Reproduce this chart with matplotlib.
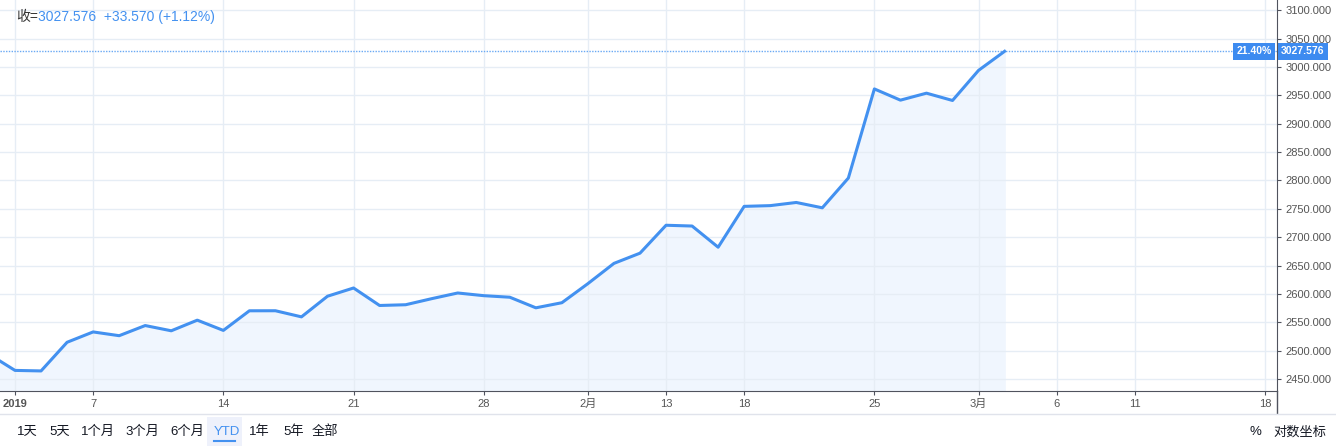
import matplotlib
matplotlib.use("Agg")
import matplotlib.pyplot as plt
from matplotlib.lines import Line2D
from matplotlib.patches import Rectangle

plt.rcParams['font.family'] = ['Liberation Sans', 'Noto Sans CJK SC', 'DejaVu Sans']

# 上证指数 日收盘 (2018-12-28 ~ 2019-03-04)
dates = ['12-28', '01-02', '01-03', '01-04', '01-07', '01-08', '01-09', '01-10', '01-11',
         '01-14', '01-15', '01-16', '01-17', '01-18', '01-21', '01-22', '01-23', '01-24',
         '01-25', '01-28', '01-29', '01-30', '01-31', '02-01', '02-11', '02-12', '02-13',
         '02-14', '02-15', '02-18', '02-19', '02-20', '02-21', '02-22', '02-25', '02-26',
         '02-27', '02-28', '03-01', '03-04']
closes = [2493.90, 2465.29, 2464.36, 2514.87, 2533.09, 2526.46, 2544.34, 2535.10, 2553.83,
          2535.77, 2570.34, 2570.42, 2559.64, 2596.01, 2610.51, 2579.70, 2581.00, 2591.69,
          2601.72, 2596.98, 2594.25, 2575.58, 2584.57, 2618.23, 2653.90, 2671.89, 2721.07,
          2719.70, 2682.39, 2754.36, 2755.65, 2761.22, 2751.80, 2804.23, 2961.28, 2941.52,
          2953.82, 2940.95, 2994.006, 3027.576]

# 交易日序号 (2019-01-02 = 0)
tick_idx = [0, 3, 8, 13, 18, 22, 25, 28, 33, 37, 40, 43, 48]
tick_labels = ['2019', '7', '14', '21', '28', '2月', '13', '18', '25', '3月', '6', '11', '18']
y_ticks = [2450, 2500, 2550, 2600, 2650, 2700, 2750, 2800, 2850, 2900, 2950, 3000, 3050, 3100]
buttons = ['1天', '5天', '1个月', '3个月', '6个月', 'YTD', '1年', '5年', '全部']
button_x = [17, 49, 81, 125, 170, 214, 249, 283, 312]

last = closes[-1]
change = closes[-1] - closes[-2]
pct = change / closes[-2] * 100
ytd = (closes[-1] / closes[0] - 1) * 100

blue = '#4391f0'
grid_c = '#e6edf5'
axis_c = '#50535e'
W, H = 1336, 446

fig = plt.figure(figsize=(W / 100, H / 100), dpi=100)
ax = fig.add_axes([0, 1 - 391 / H, 1277 / W, 391 / H])

x = list(range(-1, len(closes) - 1))
ax.fill_between(x, closes, 2400, color='#f0f6fe', zorder=1)
ax.plot(x, closes, color=blue, lw=2.2, zorder=3, solid_joinstyle='round')
ax.axhline(last, color='#6aa9f4', lw=1, ls=(0, (1, 1)), zorder=2)

ax.set_xlim(-0.576, 48.46)
ax.set_ylim(2429, 3118)
ax.set_xticks(tick_idx)
ax.set_xticklabels(tick_labels)
ax.get_xticklabels()[0].set_fontweight('bold')
ax.set_yticks(y_ticks)
ax.set_yticklabels([f'{v:.3f}' for v in y_ticks])
ax.yaxis.tick_right()
ax.tick_params(axis='both', colors=axis_c, labelcolor='#555555', labelsize=8,
               length=3, width=0.8, direction='out', pad=3)
ax.grid(True, color=grid_c, lw=1, zorder=0)
for s in ['top', 'left']:
    ax.spines[s].set_visible(False)
ax.spines['bottom'].set_color(axis_c)
ax.spines['right'].set_color(axis_c)

# 价格标签
ax.annotate(f'{last:.3f}', xy=(1.0, last), xycoords=('axes fraction', 'data'),
            xytext=(3, 0), textcoords='offset points', ha='left', va='center',
            fontsize=7.5, fontweight='bold', color='white',
            bbox=dict(boxstyle='square,pad=0.35', fc='#3d8bf0', ec='none'), zorder=5)
ax.annotate(f'{ytd:.2f}%', xy=(1.0, last), xycoords=('axes fraction', 'data'),
            xytext=(-4, 0), textcoords='offset points', ha='right', va='center',
            fontsize=7.5, fontweight='bold', color='white',
            bbox=dict(boxstyle='square,pad=0.35', fc='#3d8bf0', ec='none'), zorder=5)

# 顶部信息
fig.text(16 / W, 1 - 17 / H, '收=', fontsize=10, color='#333333', va='center')
fig.text(38 / W, 1 - 17 / H, f'{last:.3f}  +{change:.3f} (+{pct:.2f}%)',
         fontsize=10, color=blue, va='center')

# 右轴延伸线与分隔线
fig.add_artist(Line2D([1277 / W, 1277 / W], [1 - 413 / H, 1 - 391 / H], color=axis_c, lw=1))
fig.add_artist(Line2D([0, 1], [1 - 413.5 / H, 1 - 413.5 / H], color='#e0e3eb', lw=1))

# 底部按钮
fig.add_artist(Rectangle((207 / W, 0), 35 / W, 29 / H, color='#eef1fb', lw=0))
fig.add_artist(Line2D([214 / W, 235 / W], [1 - 441 / H, 1 - 441 / H], color=blue, lw=1.5))
for b, bx in zip(buttons, button_x):
    fig.text(bx / W, 1 - 432 / H, b, fontsize=9.5, va='center',
             color=blue if b == 'YTD' else '#131722')
fig.text(1250 / W, 1 - 432 / H, '%', fontsize=9.5, va='center', color='#131722')
fig.text(1273 / W, 1 - 432 / H, '对数坐标', fontsize=9.5, va='center', color='#131722')

fig.savefig('out.png', dpi=100)
plt.close(fig)
